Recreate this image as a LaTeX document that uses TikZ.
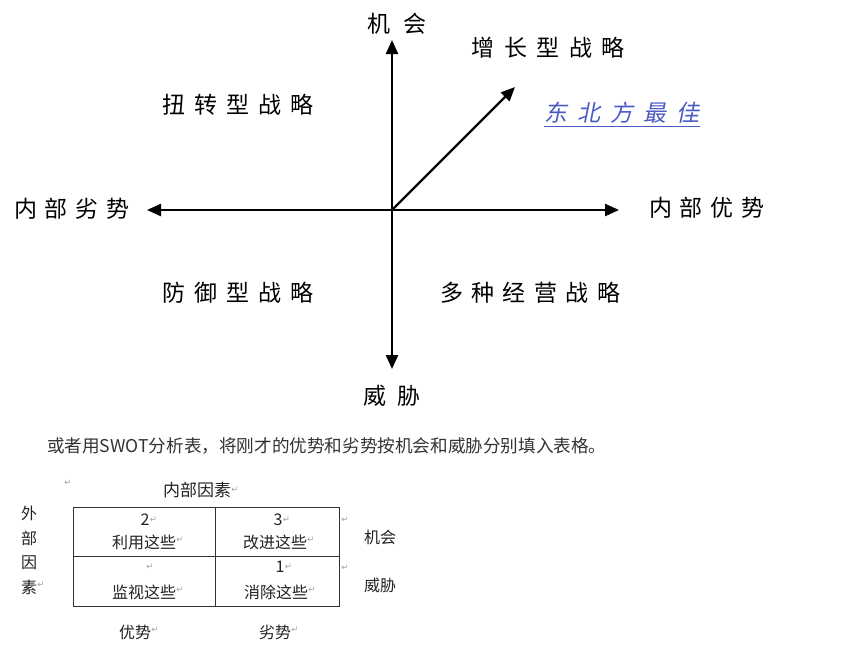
\documentclass[tikz,border=0pt]{standalone}
\usepackage{fontspec}
\setmainfont{Noto Sans CJK SC}
\newfontfamily\cjk{Noto Sans CJK SC}
\newfontfamily\slantcjk[FakeSlant=0.2]{Noto Sans CJK SC}
\newfontfamily\symf{DejaVu Sans}
\usetikzlibrary{arrows.meta}
\definecolor{tipblue}{HTML}{4B5BC4}
\definecolor{bodytext}{HTML}{333333}
\definecolor{tabletext}{HTML}{222222}
\newlength\cjkgap
\def\gobbleone#1{}
\newcommand\spc[2]{\setlength\cjkgap{#1}\spcA#2\relax}
\def\spcA#1#2{#1\ifx\relax#2\expandafter\gobbleone\else\hskip\cjkgap\relax\expandafter\spcA\fi#2}
\newcommand\ret{{\symf\fontsize{8.5}{8.5}\selectfont\textcolor{gray!75}{↵}}}
\begin{document}
\begin{tikzpicture}[x=1pt,y=-1pt,
  hand/.style={inner sep=0pt,font=\cjk\fontsize{23}{23}\selectfont},
  axis/.style={line width=2.4pt,-{Triangle[length=14pt,width=12pt]}},
  tbl/.style={inner sep=0pt,text=tabletext,font=\cjk\fontsize{16}{16}\selectfont},
  retmark/.style={inner sep=0pt},
  grid/.style={draw=black!80,line width=0.9pt}]
\useasboundingbox[fill=white] (0,0) rectangle (847,649);

% axes
\coordinate (O) at (392,210);
\coordinate (top) at (392,40);
\coordinate (bot) at (392,369);
\coordinate (lft) at (147,210);
\coordinate (rgt) at (619,210);
\coordinate (ne) at (515,87);
\draw[axis] (O) -- (top);
\draw[axis] (O) -- (bot);
\draw[axis] (O) -- (lft);
\draw[axis] (O) -- (rgt);
\draw[axis] (O) -- (ne);

% axis labels
\node[hand] (opp) at (397,24) {\spc{14pt}{机会}};
\node[hand] (thr) at (392,396) {\spc{11pt}{威胁}};
\node[hand] (weak) at (72,209) {\spc{8pt}{内部劣势}};
\node[hand] (str) at (707,208) {\spc{8pt}{内部优势}};
\node[hand] (grow) at (548,48) {\spc{9.5pt}{增长型战略}};
\node[hand] (turn) at (238,105) {\spc{9pt}{扭转型战略}};
\node[hand] (def) at (238,293) {\spc{9pt}{防御型战略}};
\node[hand] (div) at (530,293) {\spc{8.4pt}{多种经营战略}};
\node[hand,text=tipblue,font=\slantcjk\fontsize{23}{23}\selectfont] (best) at (622,113) {\spc{10pt}{东北方最佳}};
\draw[tipblue,line width=1.2pt] ([yshift=-3pt]best.south west) -- ([yshift=-3pt]best.south east);

% body text
\node[anchor=west,inner sep=0pt,text=bodytext,font=\cjk\fontsize{17.6}{17.6}\selectfont] (body) at (47,446) {或者用SWOT分析表，将刚才的优势和劣势按机会和威胁分别填入表格。};

% table
\draw[grid] (73,507) rectangle (339,606);
\draw[grid] (215,507) -- (215,606);
\draw[grid] (73,556) -- (339,556);

\node[retmark] (r0) at (68,483) {\ret};
\node[tbl,font=\cjk\fontsize{17}{17}\selectfont] (inner) at (197,490) {内部因素};
\node[retmark,anchor=west] (r1) at (inner.east) {\ret};

\node[tbl] (w1) at (29,513) {外};
\node[tbl] (w2) at (29,538) {部};
\node[tbl] (w3) at (29,563) {因};
\node[tbl] (w4) at (29,587) {素};
\node[retmark,anchor=west] (r2) at ([yshift=2pt]w4.east) {\ret};

\node[tbl] (n2) at (145,520) {2};
\node[retmark,anchor=west] at (n2.east) {\ret};
\node[tbl] (c1) at (144,542) {利用这些};
\node[retmark,anchor=west] at ([yshift=2pt]c1.east) {\ret};

\node[tbl] (n3) at (278,520) {3};
\node[retmark,anchor=west] at (n3.east) {\ret};
\node[tbl] (c2) at (275,542) {改进这些};
\node[retmark,anchor=west] at ([yshift=2pt]c2.east) {\ret};

\node[retmark] (r5) at (150,567) {\ret};
\node[tbl] (c3) at (144,592) {监视这些};
\node[retmark,anchor=west] at ([yshift=2pt]c3.east) {\ret};

\node[tbl] (n1) at (280,567) {1};
\node[retmark,anchor=west] at (n1.east) {\ret};
\node[tbl] (c4) at (276,592) {消除这些};
\node[retmark,anchor=west] at ([yshift=2pt]c4.east) {\ret};

\node[retmark] (r8) at (345,520) {\ret};
\node[retmark] (r9) at (345,568) {\ret};
\node[tbl] (o2) at (380,537) {机会};
\node[tbl] (t2) at (380,585) {威胁};

\node[tbl] (s2) at (135,632) {优势};
\node[retmark,anchor=west] at ([yshift=2pt]s2.east) {\ret};
\node[tbl] (wk2) at (275,632) {劣势};
\node[retmark,anchor=west] at ([yshift=2pt]wk2.east) {\ret};
\end{tikzpicture}
\end{document}
